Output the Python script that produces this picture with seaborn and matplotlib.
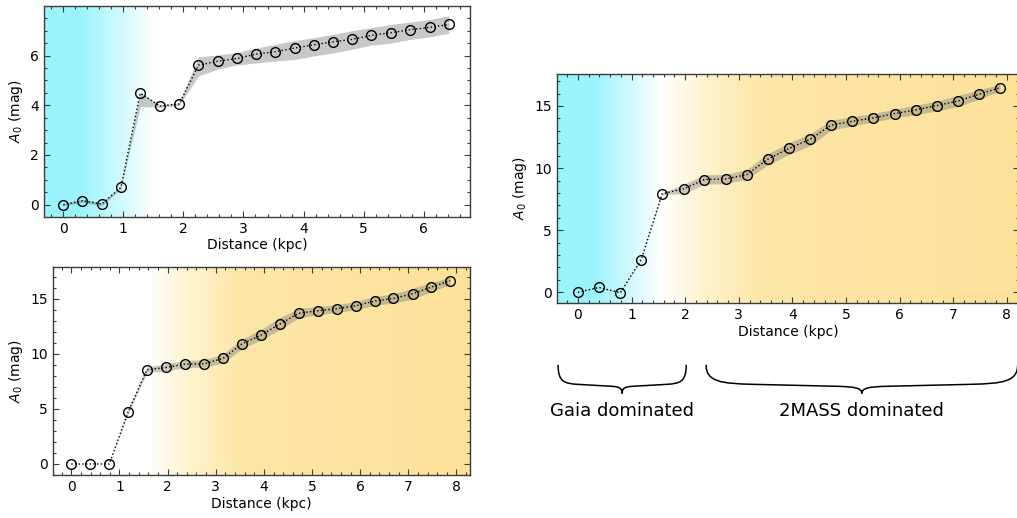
import numpy as np
import seaborn as sns
from matplotlib import pyplot as plt
from matplotlib.path import Path
from matplotlib.patches import PathPatch
from matplotlib.ticker import MultipleLocator
import matplotlib.transforms as mtransforms

# Panel 1 (top left): extinction profile out to ~6.4 kpc
dist_a = [0.0, 0.32, 0.64, 0.96, 1.28, 1.61, 1.93, 2.25, 2.57, 2.89, 3.21,
          3.53, 3.85, 4.17, 4.49, 4.81, 5.13, 5.46, 5.78, 6.10, 6.42]
ext_a = [0.0, 0.16, 0.03, 0.70, 4.48, 3.97, 4.05, 5.61, 5.77, 5.88, 6.06,
         6.15, 6.30, 6.43, 6.55, 6.65, 6.81, 6.92, 7.04, 7.13, 7.25]
low_a = [-0.05, 0.10, -0.05, 0.65, 3.95, 3.92, 4.00, 5.18, 5.45, 5.62, 5.70,
         5.78, 5.84, 5.98, 6.10, 6.25, 6.42, 6.50, 6.65, 6.75, 6.89]
upp_a = [0.05, 0.22, 0.08, 0.75, 4.52, 4.02, 4.10, 5.95, 6.02, 6.12, 6.30,
         6.45, 6.60, 6.72, 6.85, 7.00, 7.12, 7.25, 7.35, 7.45, 7.60]

# Panel 2 (bottom left) and panel 3 (right): out to ~7.9 kpc
dist_b = [0.0, 0.39, 0.79, 1.18, 1.57, 1.97, 2.36, 2.76, 3.15, 3.54, 3.94,
          4.33, 4.72, 5.12, 5.51, 5.91, 6.30, 6.69, 7.09, 7.48, 7.87]
ext_b = [0.0, 0.0, 0.0, 4.73, 8.55, 8.76, 9.06, 9.09, 9.58, 10.88, 11.70,
         12.70, 13.67, 13.91, 14.09, 14.36, 14.79, 15.03, 15.45, 16.06, 16.64]
low_b = [0.0, 0.0, 0.0, 4.55, 8.30, 8.45, 8.75, 8.78, 9.15, 10.45, 11.25,
         12.20, 13.25, 13.55, 13.75, 14.00, 14.40, 14.60, 14.95, 15.65, 16.30]
upp_b = [0.0, 0.0, 0.0, 4.90, 8.80, 9.10, 9.40, 9.45, 10.00, 11.30, 12.20,
         13.30, 14.10, 14.30, 14.45, 14.75, 15.20, 15.45, 15.95, 16.45, 16.95]

dist_c = dist_b
ext_c = [0.0, 0.40, -0.03, 2.63, 7.93, 8.33, 9.08, 9.13, 9.48, 10.71, 11.60,
         12.32, 13.45, 13.77, 14.04, 14.39, 14.68, 15.03, 15.40, 15.94, 16.47]
low_c = [0.0, 0.38, -0.05, 2.60, 7.85, 7.95, 8.70, 8.75, 9.10, 10.25, 11.10,
         11.80, 13.05, 13.40, 13.70, 14.05, 14.30, 14.60, 14.95, 15.55, 16.20]
upp_c = [0.0, 0.42, 0.00, 2.66, 8.00, 8.70, 9.45, 9.50, 9.90, 11.15, 12.05,
         12.75, 13.85, 14.15, 14.40, 14.75, 15.05, 15.40, 15.85, 16.30, 16.75]

cyan = (0.61, 0.953, 0.988)
white = (1.0, 1.0, 1.0)
cream = (0.996, 0.95, 0.80)
orange = (0.992, 0.906, 0.66)
orange_deep = (0.992, 0.885, 0.60)
edge = "#3c3c3c"

sns.set_style("ticks")
plt.rcParams.update({
    "font.family": ["DejaVu Sans"],
    "font.size": 10,
    "text.color": "black", "axes.labelcolor": "black",
    "xtick.direction": "in", "ytick.direction": "in",
    "xtick.top": True, "ytick.right": True,
    "xtick.color": edge, "ytick.color": edge,
    "xtick.labelcolor": "black", "ytick.labelcolor": "black",
    "axes.edgecolor": edge, "axes.linewidth": 1.0,
    "xtick.major.size": 4.5, "ytick.major.size": 4.5,
    "xtick.minor.size": 2.5, "ytick.minor.size": 2.5,
    "xtick.minor.width": 0.8, "ytick.minor.width": 0.8,
    "xtick.minor.visible": True, "ytick.minor.visible": True,
})

fig = plt.figure(figsize=(10.17, 5.18), dpi=100)
ax1 = fig.add_axes([0.0433, 0.5817, 0.4188, 0.4067])
ax2 = fig.add_axes([0.0521, 0.0830, 0.4100, 0.4016])
ax3 = fig.add_axes([0.5477, 0.4150, 0.4540, 0.4421])


def background(ax, xs, cols, xlim, ylim):
    grid = np.linspace(xlim[0], xlim[1], 800)
    rgb = np.array([np.interp(grid, xs, [c[i] for c in cols]) for i in range(3)]).T
    ax.imshow(rgb[np.newaxis, :, :], extent=[xlim[0], xlim[1], ylim[0], ylim[1]],
              aspect="auto", origin="lower", zorder=0, interpolation="bilinear")
    ax.set_xlim(*xlim)
    ax.set_ylim(*ylim)


def profile(ax, x, y, lo, hi):
    ax.fill_between(x, lo, hi, color="#777777", alpha=0.4, lw=0, zorder=2)
    sns.lineplot(x=x, y=y, ax=ax, color="black", linestyle=":", linewidth=1.0,
                 marker="o", markersize=7, mfc="none", mec="black", mew=1.0,
                 zorder=3)
    ax.set_xlabel("Distance (kpc)", labelpad=2)
    ax.set_ylabel("$A_0$ (mag)")


background(ax1, [0.3, 1.5], [cyan, white], (-0.32, 6.77), (-0.48, 7.99))
profile(ax1, dist_a, ext_a, low_a, upp_a)
ax1.yaxis.set_major_locator(MultipleLocator(2))
ax1.yaxis.set_minor_locator(MultipleLocator(0.5))

background(ax2, [1.6, 2.5, 3.5, 8.3], [white, cream, orange, orange_deep],
           (-0.38, 8.28), (-1.0, 17.88))
profile(ax2, dist_b, ext_b, low_b, upp_b)

background(ax3, [0.3, 1.55, 2.4, 3.4, 8.3], [cyan, white, cream, orange, orange_deep],
           (-0.39, 8.22), (-0.86, 17.57))
profile(ax3, dist_c, ext_c, low_c, upp_c)

for ax in (ax2, ax3):
    ax.yaxis.set_major_locator(MultipleLocator(5))
    ax.yaxis.set_minor_locator(MultipleLocator(1))
for ax in (ax1, ax2, ax3):
    ax.xaxis.set_major_locator(MultipleLocator(1))
    ax.xaxis.set_minor_locator(MultipleLocator(0.2))


def brace(ax, x0, x1, ytop, ybot, label, ytext):
    trans = mtransforms.blended_transform_factory(ax.transData, ax.transAxes)
    u = [0, 0, 0.1, 0.3, 0.85, 0.95, 1.0, 1.0,
         1.0, 1.05, 1.15, 1.7, 1.9, 2.0, 2.0]
    v = [0, 0.6, 0.65, 0.68, 0.75, 0.77, 0.8, 1.0,
         0.8, 0.77, 0.75, 0.68, 0.65, 0.6, 0.0]
    codes = [Path.MOVETO, Path.CURVE4, Path.CURVE4, Path.CURVE4, Path.LINETO,
             Path.CURVE4, Path.CURVE4, Path.CURVE4,
             Path.CURVE4, Path.CURVE4, Path.CURVE4, Path.LINETO,
             Path.CURVE4, Path.CURVE4, Path.CURVE4]
    half = (x1 - x0) / 2
    verts = [(x0 + a * half, ytop + b * (ybot - ytop)) for a, b in zip(u, v)]
    ax.add_patch(PathPatch(Path(verts, codes), fc="none", ec="black", lw=1.1,
                           transform=trans, clip_on=False))
    ax.text((x0 + x1) / 2, ytext, label, transform=trans, ha="center",
            va="center", fontsize=13, color="black")


brace(ax3, -0.37, 2.02, -0.27, -0.395, "Gaia dominated", -0.47)
brace(ax3, 2.39, 8.2, -0.27, -0.395, "2MASS dominated", -0.47)

fig.savefig("out.png", dpi=100)
